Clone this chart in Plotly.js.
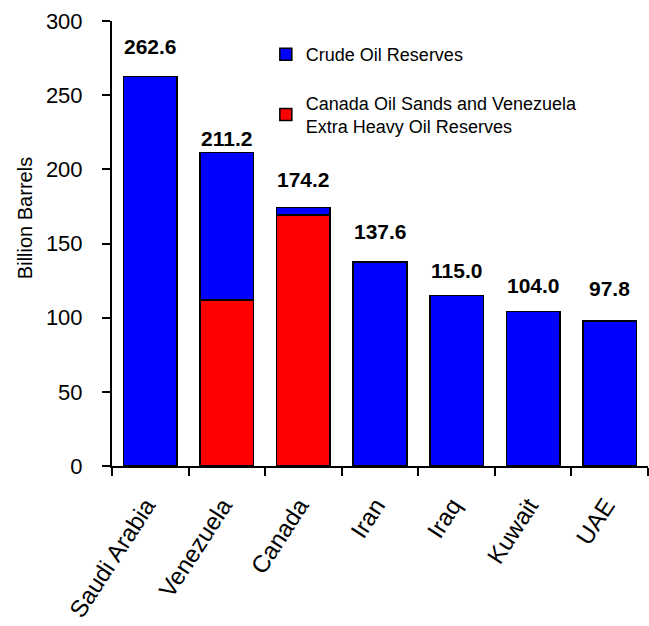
<!DOCTYPE html>
<html>
<head>
<meta charset="utf-8">
<script src="https://cdn.plot.ly/plotly-3.0.1.min.js"></script>
<style>html,body{margin:0;padding:0;background:#fff;}#chart{width:649px;height:626px;}</style>
</head>
<body>
<div id="chart"></div>
<script>
// ---- data ----
const countries = ['Saudi Arabia', 'Venezuela', 'Canada', 'Iran', 'Iraq', 'Kuwait', 'UAE'];
const crudeOil = [262.6, 99.4, 5.0, 137.6, 115.0, 104.0, 97.8];
const heavyOil = [null, 111.8, 169.2, null, null, null, null];
const totalLabels = ['262.6', '211.2', '174.2', '137.6', '115.0', '104.0', '97.8'];
const seriesNames = ['Crude Oil Reserves', 'Canada Oil Sands and Venezuela<br>Extra Heavy Oil Reserves'];
const yTicks = [0, 50, 100, 150, 200, 250, 300];
const yTitle = 'Billion Barrels';

// ---- placement of the total labels (axis units, as drawn in the original) ----
const labelPos = [282.5, 221, 193, 158, 132, 122, 120];

const FONT = 'Liberation Sans, Arial, sans-serif';

const traces = [
  {
    type: 'bar', x: countries, y: heavyOil, name: seriesNames[1], legendgroup: 'g2', legendrank: 2,
    marker: {color: '#FF0000', line: {color: '#000000', width: 1.5}},
    width: 0.7, hoverinfo: 'x+y'
  },
  {
    type: 'bar', x: countries, y: crudeOil, name: seriesNames[0], legendgroup: 'g1', legendrank: 1,
    marker: {color: '#0000FF', line: {color: '#000000', width: 1.5}},
    width: 0.7, hoverinfo: 'x+y'
  }
];

const annotations = countries.map((c, i) => ({
  x: c, y: labelPos[i], xref: 'x', yref: 'y',
  text: '<b>' + totalLabels[i] + '</b>', showarrow: false,
  xanchor: 'center', yanchor: 'middle',
  font: {family: FONT, size: 21, color: '#000'}
}));
// y-axis title, placed as in the original (slightly above the axis middle)
annotations.push({
  x: 0, xref: 'paper', xanchor: 'center', xshift: -87,
  y: 0.557, yref: 'paper', yanchor: 'middle',
  text: yTitle, textangle: -90, showarrow: false,
  font: {family: FONT, size: 20, color: '#000'}
});

const layout = {
  width: 649, height: 626,
  margin: {l: 112, r: 1, t: 21, b: 160, pad: 0},
  paper_bgcolor: '#fff', plot_bgcolor: '#fff',
  barmode: 'stack',
  font: {family: FONT, color: '#000'},
  showlegend: true,
  legend: {
    x: 0.287, xanchor: 'left', y: 0.966, yanchor: 'top',
    traceorder: 'grouped', tracegroupgap: 22,
    font: {family: FONT, size: 18, color: '#000'},
    bgcolor: 'rgba(0,0,0,0)', borderwidth: 0
  },
  xaxis: {
    type: 'category', showline: true, linecolor: '#000', linewidth: 2,
    ticks: 'outside', tickson: 'boundaries', ticklen: 8, tickwidth: 2, tickcolor: '#000',
    tickangle: -57, tickfont: {family: FONT, size: 24, color: '#000'},
    ticklabelstandoff: 14, ticklabelshift: -4,
    showgrid: false, zeroline: false, automargin: false
  },
  yaxis: {
    range: [0, 300], tickvals: yTicks, showline: true, linecolor: '#000', linewidth: 2,
    ticks: 'outside', ticklen: 8, tickwidth: 2, tickcolor: '#000',
    tickfont: {family: FONT, size: 22, color: '#000'},
    ticklabelstandoff: 15,
    showgrid: false, zeroline: false, automargin: false
  },
  annotations: annotations
};

Plotly.newPlot('chart', traces, layout, {displayModeBar: false, staticPlot: true});
</script>
</body>
</html>
